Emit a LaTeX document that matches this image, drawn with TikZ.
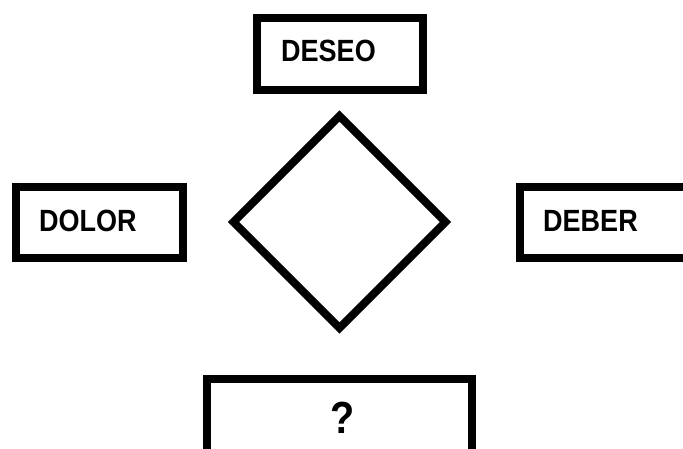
\documentclass[tikz,border=0pt]{standalone}
\usepackage{fontspec}
\usetikzlibrary{shapes.geometric}
\newfontfamily\lblfont[FakeStretch=0.88]{Liberation Sans}
\begin{document}
\begin{tikzpicture}[x=1pt,y=1pt,
  frame/.style={draw=black, line width=8pt, fill=white, inner sep=0pt, outer sep=0pt},
  lbl/.style={inner sep=0pt, font=\lblfont\bfseries\fontsize{30.7}{32}\selectfont},
  qlbl/.style={inner sep=0pt, font=\lblfont\bfseries\fontsize{45}{46}\selectfont}]
\useasboundingbox (0,0) rectangle (683,448);
\fill[white] (0,0) rectangle (683,448);
\clip (0,0) rectangle (683,448);
% boxes
\node[frame, minimum width=166pt, minimum height=72pt] (deseo) at (339.5,393.5) {};
\node[frame, minimum width=167pt, minimum height=71pt] (dolor) at (99.5,225.5) {};
\node[frame, minimum width=180pt, minimum height=71pt] (deber) at (610,225.5) {};
\node[frame, minimum width=265pt, minimum height=89pt] (pregunta) at (339.5,24.5) {};
% central diamond
\node[frame, diamond, minimum width=212pt, minimum height=212pt, aspect=1] (centro) at (339.5,226) {};
% labels
\node[lbl, anchor=base west] (deseoT) at (281,386) {DESEO};
\node[lbl, anchor=base west] (dolorT) at (39,216.3) {DOLOR};
\node[lbl, anchor=base west] (deberT) at (543,216.3) {DEBER};
\node[qlbl, anchor=base] (preguntaT) at (343,15) {?};
\end{tikzpicture}
\end{document}
